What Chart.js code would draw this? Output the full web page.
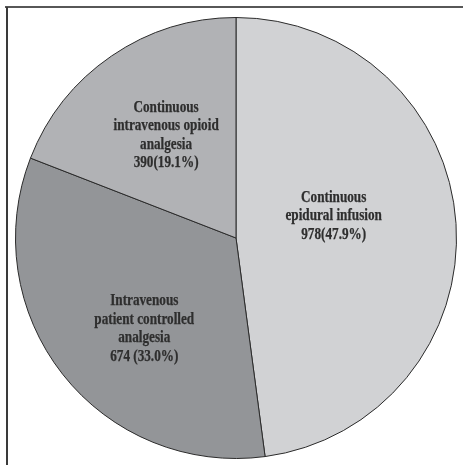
<!DOCTYPE html>
<html>
<head>
<meta charset="utf-8">
<script src="https://cdn.jsdelivr.net/npm/chart.js@4"></script>
<style>
  html, body { margin: 0; padding: 0; background: #fff; }
  #wrap { position: relative; width: 463px; height: 465px; }
</style>
</head>
<body>
<div id="wrap"><canvas id="myChart" width="463" height="465"></canvas></div>
<script>
// data
var categories = [
    ['Continuous', 'epidural infusion'],
    ['Intravenous', 'patient controlled', 'analgesia'],
    ['Continuous', 'intravenous opioid', 'analgesia']
];
var counts = [978, 674, 390];
var countLabels = ['978(47.9%)', '674 (33.0%)', '390(19.1%)'];
var sliceColors = ['#d1d2d4', '#939598', '#b1b2b5'];

// frame lines on top and left
var framePlugin = {
    id: 'frame',
    beforeDraw: function (chart) {
        var ctx = chart.ctx;
        ctx.save();
        ctx.fillStyle = '#575757';
        ctx.fillRect(5, 6, 458, 2);
        ctx.fillStyle = '#3a3a3a';
        ctx.fillRect(6, 7, 2, 458);
        ctx.restore();
    }
};

// text inside the slices, placed as a fraction of the radius from the centre
var sliceLabels = {
    id: 'sliceLabels',
    afterDatasetsDraw: function (chart, args, opts) {
        var ctx = chart.ctx;
        var arcs = chart.getDatasetMeta(0).data;
        ctx.save();
        ctx.fillStyle = '#2e2e2e';
        ctx.strokeStyle = '#2e2e2e';
        ctx.lineWidth = 0.25;
        ctx.font = 'bold 16px "Liberation Serif", "Times New Roman", serif';
        ctx.textAlign = 'center';
        ctx.textBaseline = 'middle';
        arcs.forEach(function (arc, i) {
            var lines = categories[i].concat([countLabels[i]]);
            var cx = arc.x + opts.spots[i][0] * arc.outerRadius;
            var cy = arc.y + opts.spots[i][1] * arc.outerRadius;
            var top = cy - (lines.length - 1) * opts.lineHeight / 2;
            lines.forEach(function (txt, k) {
                ctx.save();
                ctx.translate(cx, top + k * opts.lineHeight);
                ctx.scale(0.825, 1);
                ctx.fillText(txt, 0, 0);
                ctx.strokeText(txt, 0, 0);
                ctx.restore();
            });
        });
        ctx.restore();
    }
};

var ctx = document.getElementById('myChart').getContext('2d');
var myChart = new Chart(ctx, {
    type: 'pie',
    data: {
        labels: categories.map(function (c) { return c.join(' '); }),
        datasets: [{
            data: counts,
            backgroundColor: sliceColors,
            borderColor: '#2b2b2b',
            borderWidth: 1
        }]
    },
    options: {
        responsive: false,
        animation: false,
        layout: { padding: { left: 15, right: 6, top: 16, bottom: 5 } },
        plugins: {
            legend: { display: false },
            tooltip: { enabled: false },
            sliceLabels: {
                lineHeight: 18.5,
                spots: [[0.443, -0.10], [-0.416, 0.412], [-0.317, -0.466]]
            }
        }
    },
    plugins: [framePlugin, sliceLabels]
});
</script>
</body>
</html>
